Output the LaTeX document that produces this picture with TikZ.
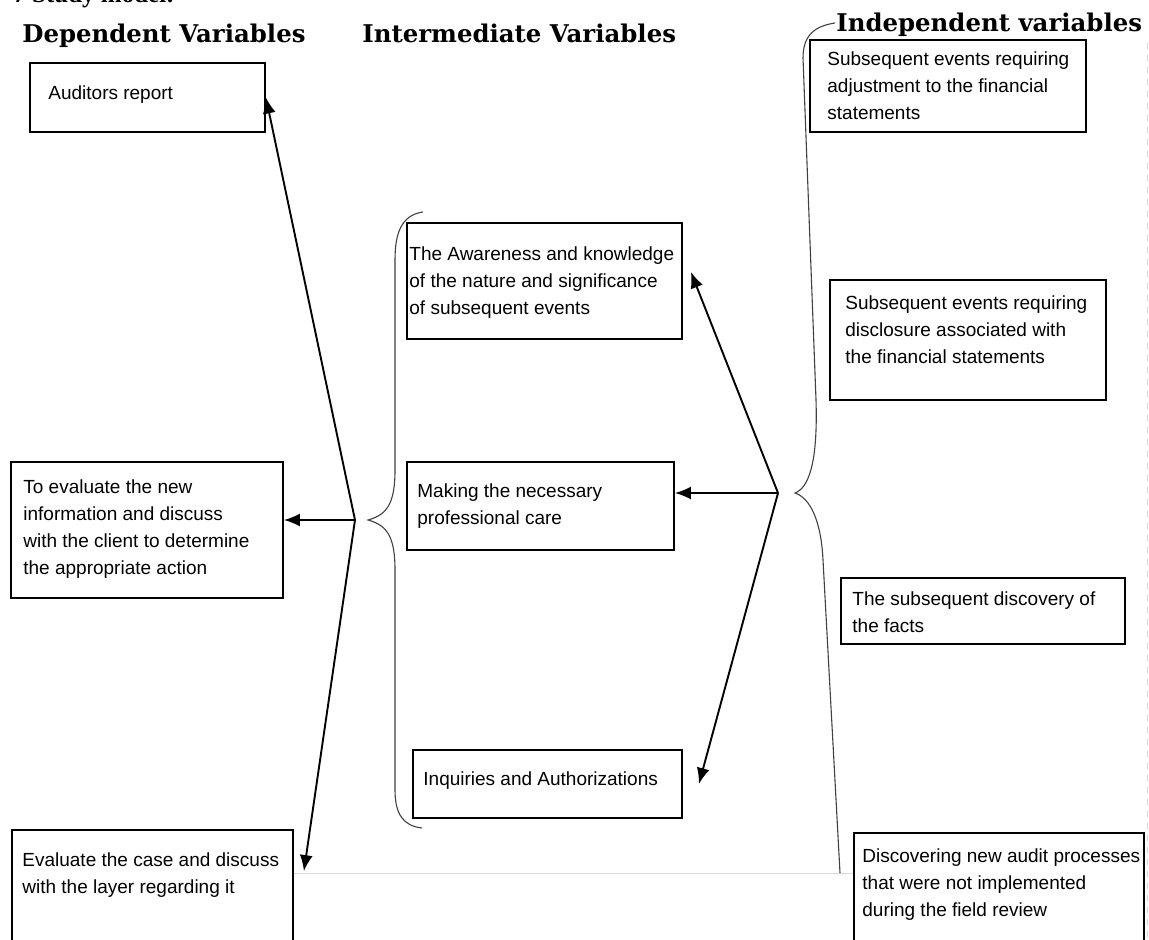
\documentclass[tikz,border=0pt]{standalone}
\usepackage{fontspec}
\setmainfont{Liberation Sans}
\newfontfamily\headfont{DejaVu Serif}
\newfontfamily\titlefont{Liberation Serif}
\usetikzlibrary{positioning,fit,calc,arrows.meta}

\tikzset{
    varbox/.style={draw, line width=0.9pt, inner sep=0pt},
    vartext/.style={anchor=north west, inner sep=0pt, align=left, font=\fontsize{9.5pt}{13.5pt}\selectfont},
    heading/.style={anchor=base west, inner sep=0pt, font=\headfont\bfseries\fontsize{12.2pt}{14pt}\selectfont},
    arr/.style={-{Latex[length=8pt,width=6.5pt]}, line width=0.95pt},
    brace/.style={line width=0.55pt, black!75},
    pageline/.style={line width=0.4pt, black!15}
}

\begin{document}
\begin{tikzpicture}[x=0.5pt, y=-0.5pt]
    \useasboundingbox (0,0) rectangle (1149,940);

    \node[anchor=base west, inner sep=0pt, font=\titlefont\bfseries\fontsize{12.5pt}{14pt}\selectfont] (title) at (13,3) {7 Study model:};
    \node[heading] (depHead) at (22,43) {Dependent Variables};
    \node[heading] (intHead) at (362,43) {Intermediate Variables};
    \node[heading] (indHead) at (836,32) {Independent variables};

    % Dependent
    \node[varbox, fit={(30,63) (265,132)}] (audit) {};
    \node[vartext] (auditTxt) at (48,85) {Auditors report};
    \node[varbox, fit={(11,462) (283,598)}] (evalNew) {};
    \node[vartext] (evalNewTxt) at (23,479) {To evaluate the new\\information and discuss\\with the client to determine\\the appropriate action};
    \node[varbox, fit={(12,830) (293,960)}] (evalCase) {};
    \node[vartext] (evalCaseTxt) at (22,852) {Evaluate the case and discuss\\with the layer regarding it};

    % Intermediate
    \node[varbox, fit={(407,223) (682,339)}] (aware) {};
    \node[vartext] (awareTxt) at (409,246) {The Awareness and knowledge\\of the nature and significance\\of subsequent events};
    \node[varbox, fit={(407,462) (674,550)}] (making) {};
    \node[vartext] (makingTxt) at (417,483) {Making the necessary\\professional care};
    \node[varbox, fit={(413,750) (682,818)}] (inquiry) {};
    \node[vartext] (inquiryTxt) at (423,771) {Inquiries and Authorizations};

    % Independent
    \node[varbox, fit={(810,40) (1086,132)}] (adjust) {};
    \node[vartext] (adjustTxt) at (827,51) {Subsequent events requiring\\adjustment to the financial\\statements};
    \node[varbox, fit={(830,280) (1106,400)}] (disclose) {};
    \node[vartext] (discloseTxt) at (845,295) {Subsequent events requiring\\disclosure associated with\\the financial statements};
    \node[varbox, fit={(841,578) (1125,644)}] (discovery) {};
    \node[vartext] (discoveryTxt) at (852,591) {The subsequent discovery of\\the facts};
    \node[varbox, fit={(854,833) (1144,960)}] (newAudit) {};
    \node[vartext] (newAuditTxt) at (862,848) {Discovering new audit processes\\that were not implemented\\during the field review};

    % page edges
    \draw[pageline] (evalCase.north east |- 0,873) -- (newAudit.north west |- 0,873);
    \draw[pageline, dashed] (1147,43) -- (1147,940);

    % braces
    \draw[brace] (423,212) .. controls (402,215) and (395,232) .. (395,260) -- (395,470)
        .. controls (395,505) and (386,515) .. (368,520)
        .. controls (386,525) and (395,535) .. (395,570) -- (395,790)
        .. controls (395,815) and (404,826) .. (422,828);
    \draw[brace] (835,23) .. controls (815,26) and (803,35) .. (803,58) -- (816,400)
        .. controls (818,465) and (808,488) .. (795,493)
        .. controls (810,498) and (821,520) .. (823,560) -- (840,873);

    % Arrows
    \coordinate (lHub) at (355,520);
    \coordinate (rHub) at (778,493);
    \draw[arr] (lHub) -- (audit.east);
    \draw[arr] (lHub) -- (evalNew.east |- lHub);
    \draw[arr] (lHub) -- ([shift={(10,42)}]evalCase.north east);
    \draw[arr] (rHub) -- ([shift={(8,-9)}]aware.east);
    \draw[arr] (rHub) -- (making.east |- rHub);
    \draw[arr] (rHub) -- ([xshift=8]inquiry.east);
\end{tikzpicture}
\end{document}
